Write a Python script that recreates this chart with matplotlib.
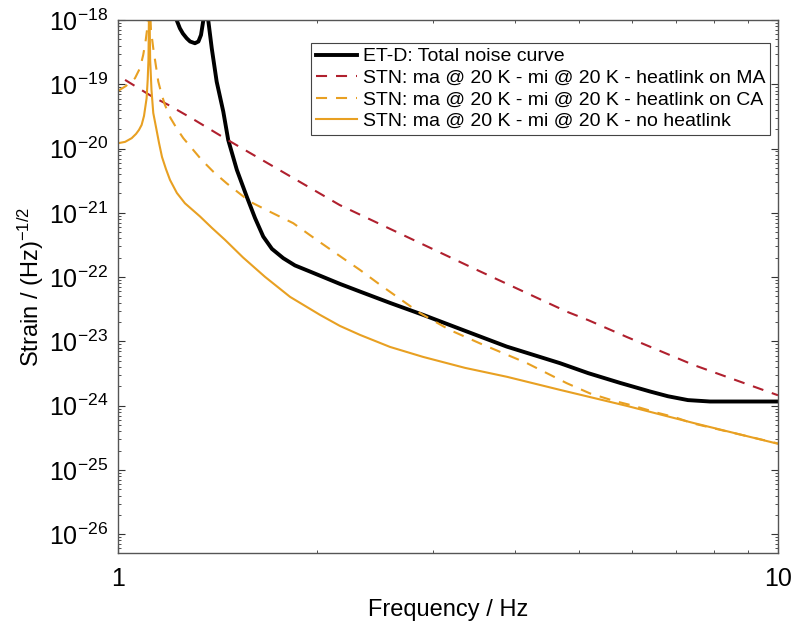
import matplotlib
matplotlib.use('Agg')
import matplotlib.pyplot as plt
from matplotlib.ticker import LogLocator, NullFormatter

plt.rcParams['font.family'] = ['Liberation Sans', 'DejaVu Sans']
plt.rcParams['mathtext.fontset'] = 'custom'
plt.rcParams['mathtext.rm'] = 'Liberation Sans'
plt.rcParams['mathtext.it'] = 'Liberation Sans:italic'

#### data (Hz, strain)
etd_f = [1.207, 1.227, 1.241, 1.254, 1.271, 1.286, 1.308, 1.324, 1.336, 1.347, 1.359, 1.370,
         1.387, 1.411, 1.444, 1.469, 1.514, 1.567, 1.613, 1.660, 1.711, 1.780, 1.854, 1.954,
         2.169, 2.327, 2.583, 2.901, 3.356, 3.881, 4.674, 5.160, 5.764, 6.400, 6.813, 7.304,
         7.889, 10.0]
etd_h = [2.0e-18, 1.0e-18, 7.43e-19, 6.17e-19, 5.19e-19, 4.63e-19, 4.35e-19, 4.63e-19, 5.85e-19,
         1.0e-18, 3.0e-18, 1.0e-18, 3.63e-19, 1.10e-19, 3.75e-20, 1.36e-20, 4.65e-21, 1.79e-21,
         8.3e-22, 4.27e-22, 2.75e-22, 1.97e-22, 1.52e-22, 1.22e-22, 7.84e-23, 5.95e-23, 3.97e-23,
         2.58e-23, 1.46e-23, 8.3e-24, 4.58e-24, 3.2e-24, 2.26e-24, 1.66e-24, 1.40e-24, 1.22e-24,
         1.16e-24, 1.16e-24]

ma_f = [1.025, 1.125, 1.191, 1.294, 1.468, 2.168, 3.451, 4.786, 5.159, 5.902, 7.447, 10.0]
ma_h = [1.17e-19, 6.5e-20, 4.8e-20, 2.95e-20, 1.35e-20, 1.32e-21, 1.38e-22, 2.9e-23,
        2.14e-23, 1.17e-23, 4.3e-24, 1.45e-24]

ca_f = [1.0, 1.028, 1.061, 1.080, 1.092, 1.1007, 1.1076, 1.1153, 1.1220, 1.1310, 1.151, 1.164,
        1.178, 1.201, 1.227, 1.256, 1.339, 1.394, 1.461, 1.585, 1.699, 1.843, 2.0, 2.195,
        2.327, 2.495, 2.869, 3.184, 3.536, 4.162, 4.784, 5.19, 5.623, 6.03, 6.55, 6.98,
        7.43, 10.0]
ca_h = [7.87e-20, 9.4e-20, 1.24e-19, 1.79e-19, 2.86e-19, 4.55e-19, 7.5e-19, 3.0e-18, 7.0e-19,
        3.63e-19, 1.10e-19, 7.06e-20, 4.77e-20, 2.99e-20, 2.07e-20, 1.45e-20, 6.65e-21, 4.38e-21,
        2.88e-21, 1.49e-21, 1.04e-21, 6.9e-22, 3.79e-22, 1.95e-22, 1.29e-22, 7.6e-23, 2.75e-23,
        1.5e-23, 9.3e-24, 4.6e-24, 2.24e-24, 1.55e-24, 1.2e-24, 1.0e-24, 7.8e-25, 6.6e-25,
        5.3e-25, 2.58e-25]

nohl_f = [1.0, 1.025, 1.049, 1.065, 1.076, 1.086, 1.095, 1.105, 1.1092, 1.1122, 1.1152,
          1.1188, 1.1240, 1.1310, 1.144, 1.154, 1.166, 1.182, 1.199, 1.228, 1.263, 1.331,
          1.388, 1.453, 1.547, 1.670, 1.823, 2.024, 2.169, 2.327, 2.583, 2.898, 3.356, 3.885,
          4.674, 5.905, 7.434, 10.0]
nohl_h = [1.21e-20, 1.27e-20, 1.45e-20, 1.69e-20, 1.95e-20, 2.33e-20, 3.21e-20, 6.05e-20,
          1.17e-19, 2.39e-19, 3.0e-18, 2.39e-19, 8.15e-20, 3.58e-20, 1.95e-20, 1.22e-20,
          7.4e-21, 4.82e-21, 3.25e-21, 2.04e-21, 1.41e-21, 8.8e-22, 5.82e-22, 3.79e-22,
          2.02e-22, 1.01e-22, 4.92e-23, 2.58e-23, 1.74e-23, 1.26e-23, 8.2e-24, 5.74e-24,
          3.87e-24, 2.81e-24, 1.76e-24, 9.9e-25, 5.4e-25, 2.55e-25]

labels = ['ET-D: Total noise curve',
          'STN: ma @ 20 K - mi @ 20 K - heatlink on MA',
          'STN: ma @ 20 K - mi @ 20 K - heatlink on CA',
          'STN: ma @ 20 K - mi @ 20 K - no heatlink']

red = '#B0202E'
orange = '#E8A022'

fig = plt.figure(figsize=(7.95, 6.25), dpi=100)
ax = fig.add_axes([0.1484, 0.1152, 0.8302, 0.8528])

ax.loglog(etd_f, etd_h, color='black', lw=2.8, label=labels[0])
l1, = ax.loglog(ma_f, ma_h, color=red, lw=1.5, label=labels[1])
l2, = ax.loglog(ca_f, ca_h, color=orange, lw=1.5, label=labels[2])
ax.loglog(nohl_f, nohl_h, color=orange, lw=1.5, label=labels[3])
l1.set_dashes([5.3, 4.3])
l2.set_dashes([5.3, 4.3])

ax.set_xlim(1, 10)
ax.set_ylim(5.1e-27, 1e-18)

ax.set_xticks([1, 10])
ax.set_xticklabels(['1', '10'])
ax.set_yticks([10.0**e for e in range(-26, -17)])
ax.set_yticklabels(['$10^{%d}$' % e for e in range(-26, -17)])
ax.xaxis.set_minor_locator(LogLocator(base=10, subs=range(2, 10)))
ax.yaxis.set_minor_locator(LogLocator(base=10, subs=range(2, 10), numticks=20))
ax.xaxis.set_minor_formatter(NullFormatter())
ax.yaxis.set_minor_formatter(NullFormatter())

ax.tick_params(which='both', direction='in', top=True, right=True, labelsize=18, color='#333333')
ax.tick_params(which='major', length=5, width=0.8)
ax.tick_params(which='minor', length=2.5, width=0.6)
ax.tick_params(axis='x', which='major', pad=10)
ax.tick_params(axis='y', which='major', pad=7)
for s in ax.spines.values():
    s.set_color('#555555')
    s.set_linewidth(1.0)

ax.set_xlabel('Frequency / Hz', fontsize=17, labelpad=6)
ax.set_ylabel('Strain / (Hz)$^{-1/2}$', fontsize=17, labelpad=2)

leg = ax.legend(loc='upper right', bbox_to_anchor=(0.988, 0.957), fontsize=14,
                frameon=True, fancybox=False, edgecolor='#444444', framealpha=1,
                handlelength=2.1, handletextpad=0.3, labelspacing=0.2,
                borderpad=0.25, borderaxespad=0)
leg.get_frame().set_linewidth(0.8)

fig.savefig('out.png', dpi=100)
